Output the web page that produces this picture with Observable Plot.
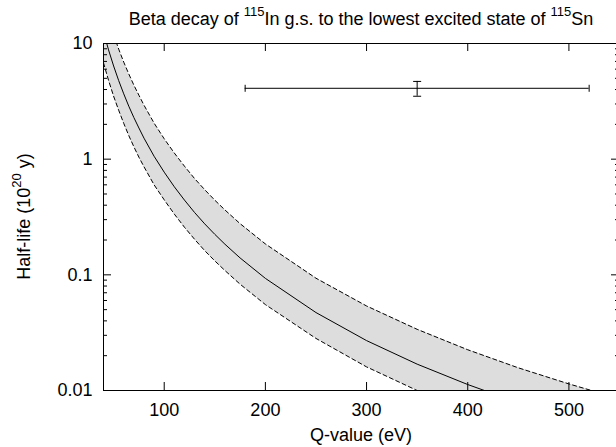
<!DOCTYPE html>
<html>
<head>
<meta charset="utf-8">
<script src="https://cdn.jsdelivr.net/npm/d3@7"></script>
<script src="https://cdn.jsdelivr.net/npm/@observablehq/plot@0.6"></script>
<style>
html, body { margin: 0; padding: 0; background: #fff; width: 616px; height: 447px; overflow: hidden; }
</style>
</head>
<body>
<div id="chart"></div>
<script>
// ---- data ----
const qValues          = [40, 45, 50, 55, 60, 65, 70, 75, 80, 90, 100, 110, 120, 130, 140, 150, 160, 175, 200, 250, 300, 350, 400, 450, 500, 550];
const halfLifeCentral  = [12.6, 8.80, 6.39, 4.78, 3.67, 2.87, 2.29, 1.86, 1.52, 1.06, 0.772, 0.577, 0.443, 0.346, 0.276, 0.224, 0.184, 0.140, 0.0932, 0.0472, 0.0270, 0.0169, 0.01126, 0.00786, 0.00569, 0.00426];
const halfLifeUpper    = [23.0, 16.3, 11.9, 8.95, 6.9, 5.45, 4.37, 3.57, 2.93, 2.05, 1.50, 1.13, 0.87, 0.68, 0.545, 0.442, 0.364, 0.277, 0.185, 0.0935, 0.0538, 0.0338, 0.0225, 0.0157, 0.0114, 0.0085];
const halfLifeLower    = [6.8, 4.8, 3.5, 2.65, 2.04, 1.60, 1.28, 1.04, 0.86, 0.60, 0.445, 0.335, 0.258, 0.203, 0.162, 0.132, 0.109, 0.083, 0.0553, 0.0282, 0.0160, 0.0100, 0.0067, 0.0047, 0.0034, 0.00255];

const measuredQ      = [350];
const measuredQLow   = [180];
const measuredQHigh  = [520];
const measuredT      = [4.1];
const measuredTLow   = [3.5];
const measuredTHigh  = [4.7];

const xTickValues     = [100, 200, 300, 400, 500];
const yMajorTicks     = [0.01, 0.1, 1, 10];
const yMinorTicks     = [0.02,0.03,0.04,0.05,0.06,0.07,0.08,0.09, 0.2,0.3,0.4,0.5,0.6,0.7,0.8,0.9, 2,3,4,5,6,7,8,9];

const titleParts = ["Beta decay of ", "115", "In g.s. to the lowest excited state of ", "115", "Sn"];
const xLabel = "Q-value (eV)";
const yLabelParts = ["Half-life (10", "20", " y)"];

// ---- layout ----
const W = 620, H = 447, mL = 103, mR = 1, mT = 43, mB = 57;
const plotW = W - mL - mR;
const plotH = H - mT - mB;
const font = "'Liberation Sans', Arial, Helvetica, sans-serif";

const rows = qValues.map((q, i) => ({q, mid: halfLifeCentral[i], lo: halfLifeLower[i], hi: halfLifeUpper[i]}));
const errorBar = measuredQ.map((q, i) => ({q, qLo: measuredQLow[i], qHi: measuredQHigh[i], t: measuredT[i], tLo: measuredTLow[i], tHi: measuredTHigh[i]}));

const vline = {draw(ctx, size) { const r = Math.sqrt(size / Math.PI); ctx.moveTo(0, -r); ctx.lineTo(0, r); }};
const hline = {draw(ctx, size) { const r = Math.sqrt(size / Math.PI); ctx.moveTo(-r, 0); ctx.lineTo(r, 0); }};

const svg = Plot.plot({
  width: W, height: H,
  marginLeft: mL, marginRight: mR, marginTop: mT, marginBottom: mB,
  style: {fontFamily: font, fontSize: "18px", maxWidth: "none", background: "white", color: "black"},
  x: {domain: [40, 550]},
  y: {type: "log", domain: [0.01, 10]},
  marks: [
    Plot.areaY(rows, {x: "q", y1: "lo", y2: "hi", fill: "#dddddd", clip: true}),
    Plot.line(rows, {x: "q", y: "hi", stroke: "black", strokeWidth: 1, strokeDasharray: "4,3", clip: true}),
    Plot.line(rows, {x: "q", y: "lo", stroke: "black", strokeWidth: 1, strokeDasharray: "4,3", clip: true}),
    Plot.line(rows, {x: "q", y: "mid", stroke: "black", strokeWidth: 1, clip: true}),
    // measured point with error bars
    Plot.ruleY(errorBar, {y: "t", x1: "qLo", x2: "qHi", stroke: "black", strokeWidth: 1}),
    Plot.ruleX(errorBar, {x: "q", y1: "tLo", y2: "tHi", stroke: "black", strokeWidth: 1}),
    Plot.dot(errorBar, {x: "qLo", y: "t", symbol: vline, r: 3.5, stroke: "black", strokeWidth: 1}),
    Plot.dot(errorBar, {x: "qHi", y: "t", symbol: vline, r: 3.5, stroke: "black", strokeWidth: 1}),
    Plot.dot(errorBar, {x: "q", y: "tLo", symbol: hline, r: 4, stroke: "black", strokeWidth: 1}),
    Plot.dot(errorBar, {x: "q", y: "tHi", symbol: hline, r: 4, stroke: "black", strokeWidth: 1}),
    // frame
    Plot.frame({stroke: "black", strokeWidth: 1}),
    // inward ticks
    Plot.tickX(xTickValues, {x: d => d, insetTop: plotH - 8, stroke: "black"}),
    Plot.tickX(xTickValues, {x: d => d, insetBottom: plotH - 8, stroke: "black"}),
    Plot.tickY(yMajorTicks, {y: d => d, insetRight: plotW - 8, stroke: "black"}),
    Plot.tickY(yMajorTicks, {y: d => d, insetLeft: plotW - 8, stroke: "black"}),
    Plot.tickY(yMinorTicks, {y: d => d, insetRight: plotW - 4, stroke: "black"}),
    Plot.tickY(yMinorTicks, {y: d => d, insetLeft: plotW - 4, stroke: "black"}),
    // tick labels
    Plot.axisX(xTickValues, {tickSize: 0, tickPadding: 13, label: null, fontSize: 18}),
    Plot.axisY(yMajorTicks, {tickSize: 0, tickPadding: 11, label: null, fontSize: 18, tickFormat: d => String(d)})
  ]
});

const s = d3.select(svg);
// title
const t = s.append("text")
  .attr("x", mL + plotW / 2).attr("y", 25)
  .attr("text-anchor", "middle")
  .attr("font-family", font).attr("font-size", 18).attr("fill", "black");
titleParts.forEach((p, i) => {
  const sup = (i === 1 || i === 3);
  t.append("tspan")
    .attr("font-size", sup ? 13 : 18)
    .attr("dy", sup ? -9.5 : (i === 0 ? 0 : 9.5))
    .text(p);
});
// x label
s.append("text")
  .attr("x", mL + plotW / 2).attr("y", 441)
  .attr("text-anchor", "middle")
  .attr("font-family", font).attr("font-size", 18).attr("fill", "black")
  .text(xLabel);
// y label
const yl = s.append("text")
  .attr("transform", `translate(30,${mT + plotH / 2}) rotate(-90)`)
  .attr("text-anchor", "middle")
  .attr("font-family", font).attr("font-size", 18).attr("fill", "black");
yLabelParts.forEach((p, i) => {
  const sup = i === 1;
  yl.append("tspan")
    .attr("font-size", sup ? 13 : 18)
    .attr("dy", sup ? -9.5 : (i === 0 ? 0 : 9.5))
    .text(p);
});

document.getElementById("chart").appendChild(svg);
</script>
</body>
</html>
